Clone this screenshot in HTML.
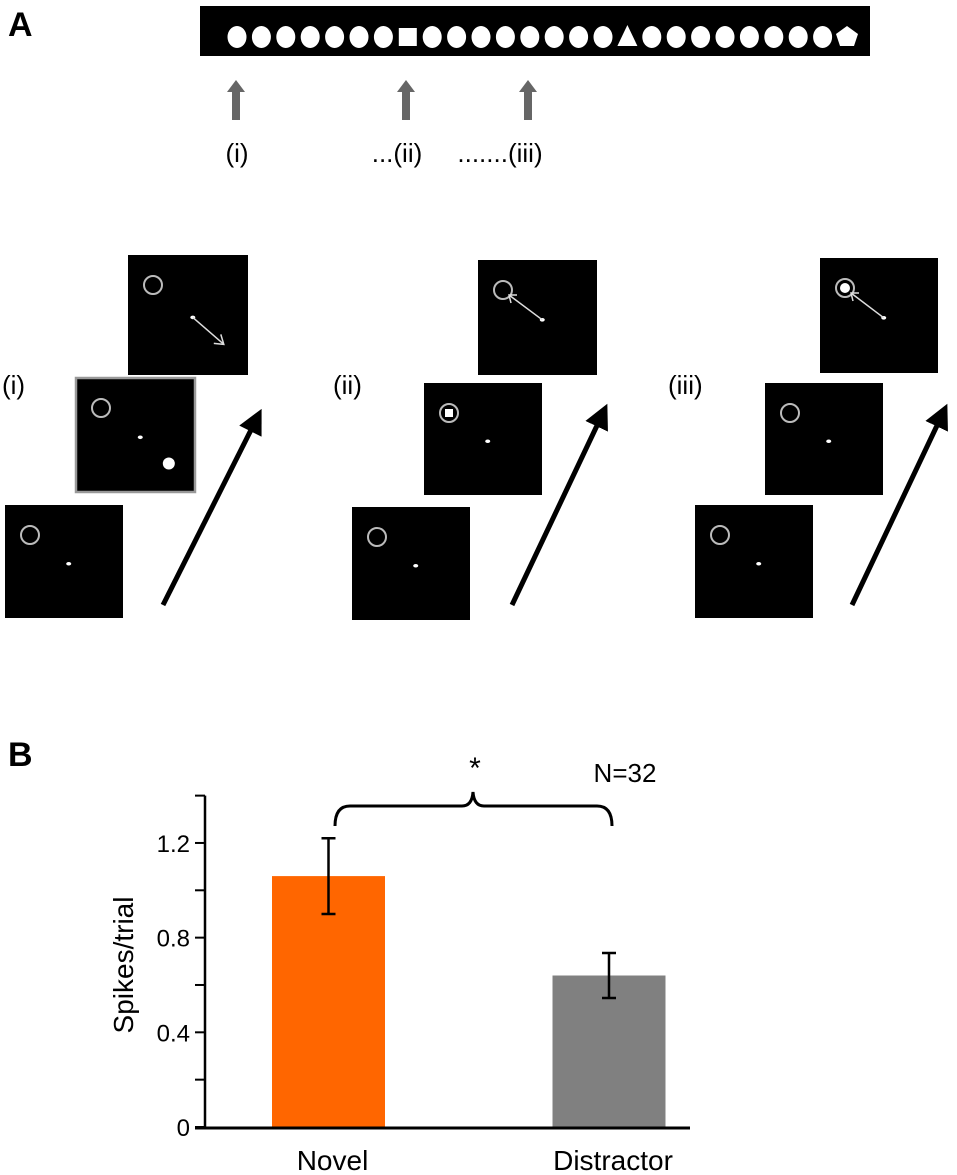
<!DOCTYPE html>
<html><head><meta charset="utf-8"><style>
body{margin:0;background:#fff;}
svg{display:block;font-family:"Liberation Sans",sans-serif;}
</style></head><body>
<svg width="957" height="1175" viewBox="0 0 957 1175">
<defs>
<marker id="ah" markerWidth="5" markerHeight="5" refX="2.5" refY="2.5" orient="auto" markerUnits="strokeWidth"><path d="M0,0 L5,2.5 L0,5 z" fill="#000"/></marker>
</defs>
<text x="8" y="36" font-size="34" font-weight="bold">A</text>
<rect x="200" y="6" width="670" height="50" fill="#000"/>
<g id="seq" fill="#fff"></g>
<g fill="#666">
<path d="M232,120 h8 v-28 h5 l-9,-12 l-9,12 h5z"/>
<path d="M402,120 h8 v-28 h5 l-9,-12 l-9,12 h5z"/>
<path d="M524,120 h8 v-28 h5 l-9,-12 l-9,12 h5z"/>
</g>
<g font-size="26" text-anchor="middle">
<text x="237" y="162">(i)</text>
<text x="397" y="162">...(ii)</text>
<text x="500" y="162">.......(iii)</text>
</g>
<g id="screens"></g>
<g font-size="26">
<text x="2" y="394">(i)</text>
<text x="333" y="394">(ii)</text>
<text x="668" y="394">(iii)</text>
</g>
<text x="8" y="766" font-size="34" font-weight="bold">B</text>
<g id="chart"></g>
</svg>
<script>
const NS='http://www.w3.org/2000/svg';
function mk(tag,attrs,parent){const e=document.createElementNS(NS,tag);for(const k in attrs)e.setAttribute(k,attrs[k]);parent.appendChild(e);return e;}
const seq=document.getElementById('seq');
for(let i=0;i<26;i++){const cx=237+i*24.4,cy=37;
 if(i===7)mk('rect',{x:cx-9,y:cy-9,width:18,height:18},seq);
 else if(i===16)mk('polygon',{points:`${cx},${cy-12} ${cx+10},${cy+9} ${cx-10},${cy+9}`},seq);
 else if(i===25)mk('polygon',{points:`${cx},${cy-11} ${cx+11},${cy-3} ${cx+7},${cy+9} ${cx-7},${cy+9} ${cx-11},${cy-3}`},seq);
 else mk('ellipse',{cx:cx,cy:cy,rx:9.5,ry:11},seq);}
const sc=document.getElementById('screens');
function screen(x,y,w,h,opts){const r=mk('rect',{x:x,y:y,width:w,height:h,fill:'#000'},sc);
 if(opts.border){r.setAttribute('stroke','#999');r.setAttribute('stroke-width','2.5');}
 const rx=x+25,ry=y+30;
 mk('circle',{cx:rx,cy:ry,r:9,fill:'none',stroke:'#bbb','stroke-width':2},sc);
 if(opts.inner==='sq')mk('rect',{x:rx-4,y:ry-4,width:8,height:8,fill:'#fff'},sc);
 if(opts.inner==='dot')mk('circle',{cx:rx,cy:ry,r:5,fill:'#fff'},sc);
 const fx=x+w*0.54,fy=y+h*0.52;
 mk('ellipse',{cx:fx,cy:fy,rx:2.5,ry:1.8,fill:'#fff'},sc);
 if(opts.target)mk('circle',{cx:x+w*0.78,cy:y+h*0.75,r:6,fill:'#fff'},sc);
 if(opts.arrow==='out'){mk('line',{x1:fx,y1:fy,x2:fx+30,y2:fy+26,stroke:'#ddd','stroke-width':1.5},sc);
  mk('path',{d:`M${fx+21},${fy+26} L${fx+31},${fy+27} L${fx+28},${fy+17}`,fill:'none',stroke:'#ddd','stroke-width':1.5},sc);}
 if(opts.arrow==='in'){mk('line',{x1:fx,y1:fy,x2:rx+6,y2:ry+5,stroke:'#ddd','stroke-width':1.5},sc);
  mk('path',{d:`M${rx+14},${ry+5} L${rx+6},${ry+5} L${rx+8},${ry+13}`,fill:'none',stroke:'#ddd','stroke-width':1.5},sc);}
}
function bigArrow(x1,y1,x2,y2){mk('line',{x1:x1,y1:y1,x2:x2,y2:y2,stroke:'#000','stroke-width':5,'marker-end':'url(#ah)'},sc);}
screen(5,505,118,113,{});screen(76,378,119,114,{border:1,target:1});screen(128,255,120,120,{arrow:'out'});bigArrow(163,605,256,420);
screen(352,507,118,113,{});screen(424,383,118,112,{inner:'sq'});screen(478,260,119,115,{arrow:'in'});bigArrow(512,605,602,415);
screen(695,505,118,113,{});screen(765,383,118,112,{});screen(820,258,118,115,{arrow:'in',inner:'dot'});bigArrow(852,605,942,415);

const categories=['Novel','Distractor'];
const values=[1.06,0.64];
const errUpper=[1.22,0.735];
const errLower=[0.9,0.545];
const colors=['#ff6600','#808080'];
const tickValues=[0,0.2,0.4,0.6,0.8,1.0,1.2,1.4];
const tickLabels=['0','','0.4','','0.8','','1.2',''];
const ch=document.getElementById('chart');
const y=v=>1127-v*236.7;
const xc=[328.5,609];const bw=113;
let e;
e=mk('line',{x1:205,y1:y(1.4),x2:205,y2:1128,stroke:'#000','stroke-width':2.5},ch);

tickValues.forEach((t,i)=>{e=mk('line',{x1:195,y1:y(t),x2:205,y2:y(t),stroke:'#000','stroke-width':2},ch);
 
 if(tickLabels[i]){e=mk('text',{x:190,y:y(t)+9,'font-size':24,'text-anchor':'end'},ch);e.textContent=tickLabels[i];
 }});
categories.forEach((c,i)=>{
 e=mk('rect',{x:xc[i]-bw/2,y:y(values[i]),width:bw,height:y(0)-y(values[i]),fill:colors[i]},ch);
 
 e=mk('path',{d:`M${xc[i]},${y(errUpper[i])}V${y(errLower[i])}M${xc[i]-7},${y(errUpper[i])}h14M${xc[i]-7},${y(errLower[i])}h14`,stroke:'#000','stroke-width':2.5,fill:'none'},ch);
 
 e=mk('text',{x:xc[i]+4,y:1170,'font-size':28,'text-anchor':'middle'},ch);e.textContent=c;
 
});
e=mk('line',{x1:195,y1:1128,x2:690,y2:1128,stroke:'#000','stroke-width':3},ch);

e=mk('text',{x:0,y:0,'font-size':28,'text-anchor':'middle',transform:'translate(133,965) rotate(-90)'},ch);e.textContent='Spikes/trial';

e=mk('path',{d:'M335,826 Q335,806 350,806 H462 Q472,806 473,792 Q474,806 484,806 H597 Q612,806 612,826',fill:'none',stroke:'#000','stroke-width':3},ch);

e=mk('text',{x:475,y:778,'font-size':30,'text-anchor':'middle'},ch);e.textContent='*';

e=mk('text',{x:625,y:782,'font-size':26,'text-anchor':'middle'},ch);e.textContent='N=32';

</script>
</body></html>
